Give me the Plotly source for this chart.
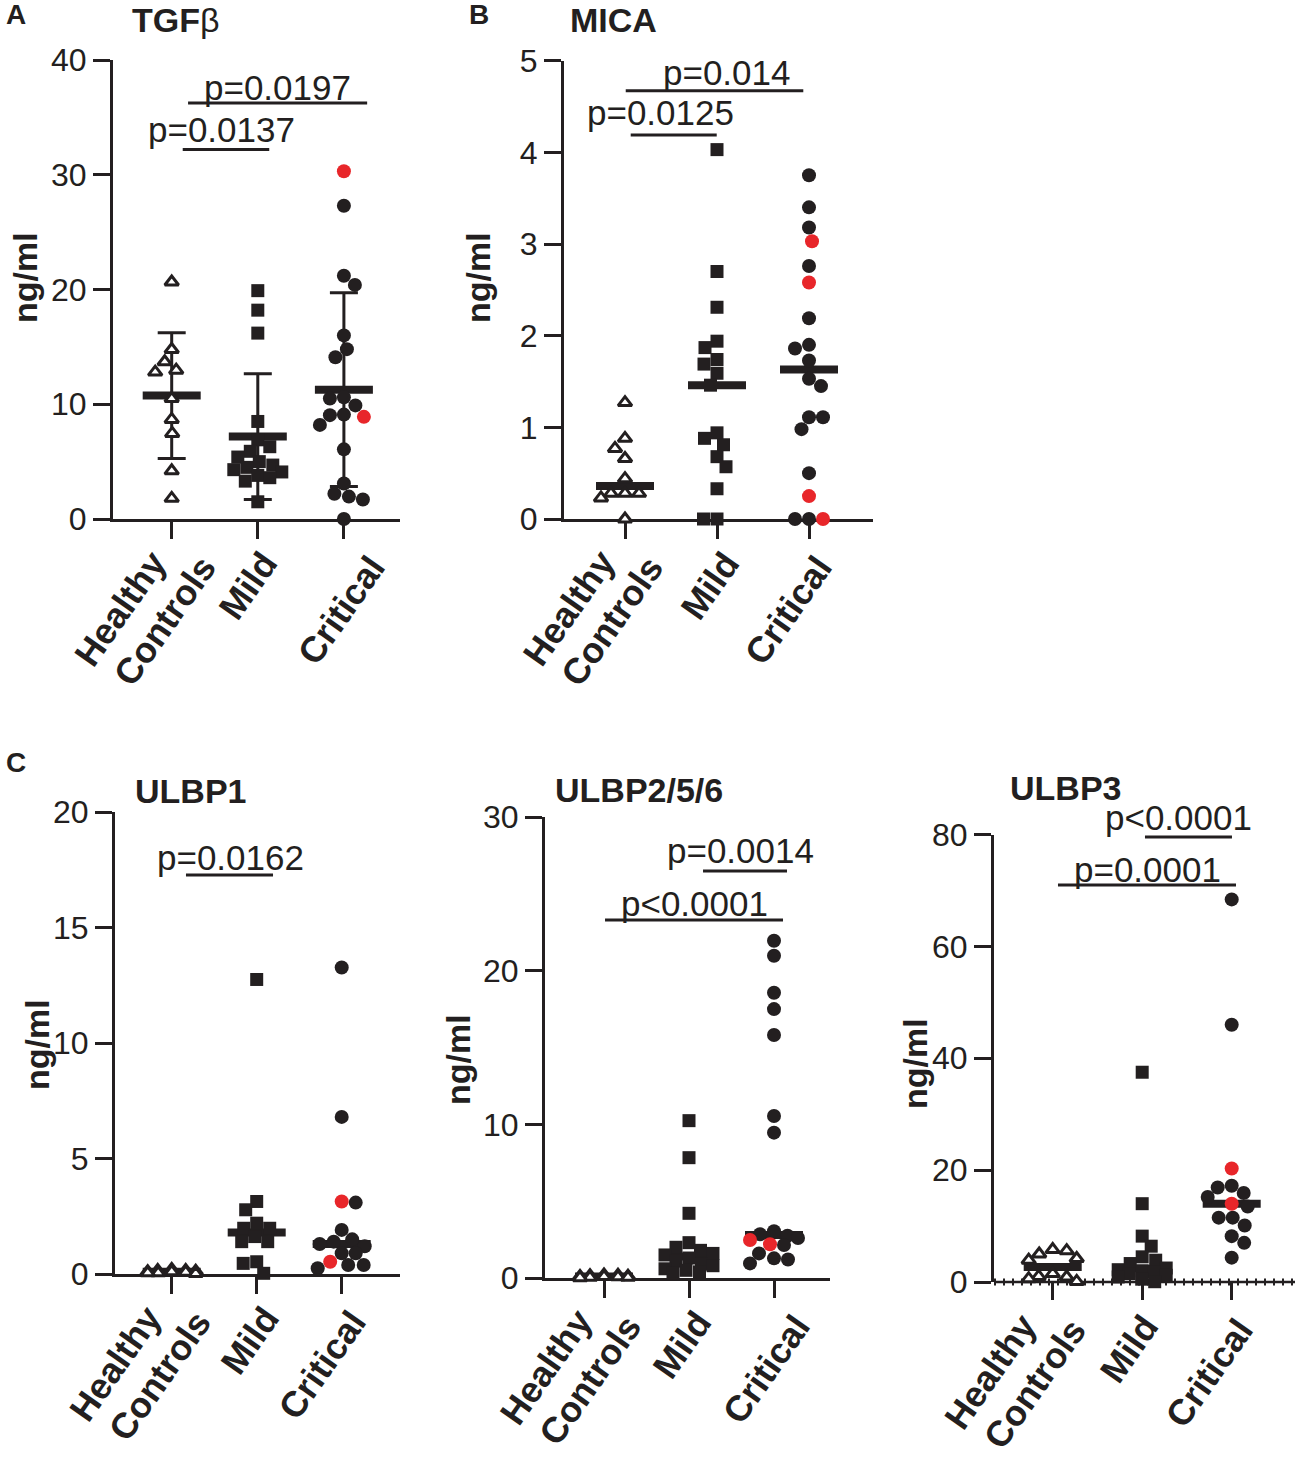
import numpy as np
import plotly.graph_objects as go

# ---------------- data (ng/ml) ----------------
categories = ["Healthy", "Controls", "Mild", "Critical"]  # "Healthy Controls" is set on two lines

tgfb_hc = [20.65, 14.77, 13.7, 12.97, 12.8, 10.5, 8.68, 7.46, 4.2, 1.8]
tgfb_mild = [19.9, 18.2, 16.2, 8.5, 6.9, 6.3, 5.9, 5.4, 5.0, 4.7, 4.5, 4.3, 4.1, 3.8, 3.6, 3.3, 1.5]
tgfb_crit = [27.3, 21.2, 20.4, 16.0, 14.8, 14.1, 10.6, 10.5, 9.9, 9.05, 9.1, 8.2, 6.07, 3.1, 2.2, 1.95, 1.7, 0.0]
tgfb_crit_red = [30.3, 8.9]

mica_hc = [1.27, 0.88, 0.77, 0.66, 0.44, 0.28, 0.28, 0.28, 0.23, 0.0]
mica_mild = [4.03, 2.70, 2.31, 1.94, 1.87, 1.74, 1.69, 1.59, 1.46, 0.94, 0.88, 0.81, 0.68, 0.57, 0.33, 0.0, 0.0]
mica_crit = [3.75, 3.40, 3.18, 2.76, 2.19, 1.90, 1.86, 1.73, 1.53, 1.45, 1.11, 1.11, 0.98, 0.50, 0.0, 0.0]
mica_crit_red = [3.03, 2.58, 0.25, 0.0]

ulbp1_hc = [0.2, 0.15, 0.15, 0.12, 0.1, 0.1, 0.08, 0.05, 0.05, 0.02]
ulbp1_mild = [12.75, 3.14, 2.78, 2.2, 1.98, 1.98, 1.62, 1.40, 1.40, 0.53, 0.46, 0.03]
ulbp1_crit = [13.27, 6.8, 3.09, 1.91, 1.5, 1.4, 1.3, 1.2, 0.9, 0.9, 0.39, 0.39, 0.25]
ulbp1_crit_red = [3.14, 0.53]

ulbp2_hc = [0.2, 0.18, 0.15, 0.12, 0.1, 0.1, 0.08, 0.05, 0.05, 0.02]
ulbp2_mild = [10.24, 7.83, 4.21, 2.3, 2.0, 1.8, 1.6, 1.5, 1.3, 1.1, 0.9, 0.8, 0.6, 0.5, 0.4, 0.3]
ulbp2_crit = [21.95, 20.97, 18.56, 17.5, 15.81, 10.54, 9.46, 3.05, 2.85, 2.75, 2.6, 2.15, 1.6, 1.28, 1.2, 0.95]
ulbp2_crit_red = [2.47, 2.2]

ulbp3_hc = [5.8, 5.6, 5.0, 4.2, 3.9, 1.5, 1.0, 0.9, 0.6, 0.1]
ulbp3_mild = [37.5, 14.0, 8.2, 6.4, 4.5, 3.9, 3.3, 2.5, 2.2, 2.0, 1.8, 1.5, 1.2, 0.9, 0.5, 0.05]
ulbp3_crit = [68.4, 46.0, 17.2, 16.9, 15.9, 15.2, 13.5, 11.5, 11.5, 10.1, 8.2, 7.0, 4.35]
ulbp3_crit_red = [20.3, 14.0]

titles = ["<b>TGF</b>β", "<b>MICA</b>", "<b>ULBP1</b>", "<b>ULBP2/5/6</b>", "<b>ULBP3</b>"]
y_max = [40, 5, 20, 30, 80]
y_dtick = [10, 1, 5, 10, 20]
summary = ["mean_sd", "median", "median", "median", "median"]

# significance brackets: (panel, x_from, x_to, y, label, text_x, text_y)  -- data units
brackets = [
    (0, 0.19, 2.27, 36.25, "p=0.0197", 1.23, 37.6),
    (0, 0.128, 1.133, 32.2, "p=0.0137", 0.584, 33.9),
    (1, 0.008, 1.938, 4.673, "p=0.014", 1.104, 4.87),
    (1, 0.062, 0.997, 4.19, "p=0.0125", 0.391, 4.43),
    (2, 0.168, 1.192, 17.27, "p=0.0162", 0.686, 18.05),
    (3, 1.165, 2.153, 26.49, "p=0.0014", 1.6, 27.8),
    (3, 0.012, 2.106, 23.3, "p<0.0001", 1.059, 24.4),
    (4, 1.031, 2.003, 79.55, "p<0.0001", 1.4, 82.95),
    (4, 0.059, 2.048, 70.97, "p=0.0001", 1.054, 73.8),
]

# ---------------- layout geometry (pixels) ----------------
W, H = 1299, 1461
# x axis extent px, y axis top/bottom px, first category px, category step px
geom = [
    (113, 400, 60.0, 519.0, 171.7, 86.1),
    (564, 873, 60.7, 519.0, 625.0, 92.0),
    (115, 400, 812.0, 1274.0, 171.7, 85.0),
    (545, 830, 817.0, 1278.0, 604.0, 85.0),
    (994, 1295, 834.5, 1282.0, 1052.7, 89.5),
]
title_pos = [(130, 20), (568, 20), (133, 791), (553, 790), (1008, 788)]
ylab_pos = [(25, 278), (478, 278), (37, 1045), (458, 1060), (915, 1063)]
letters = [("A", 4, 15), ("B", 467, 15), ("C", 4, 763)]
# category label anchors per panel: dx for (Healthy, Controls, Mild, Critical) from tick, px
label_cat = [0, 0, 1, 2]
label_dy = [23, 28, 24, 28]
label_dx = [
    [4, 54, 29, 50],
    [-1, 48, 32, 32],
    [-1, 49, 32, 33],
    [-3, 47, 32, 45],
    [-7, 43, 26, 30],
]

BLACK = "#231f20"
RED = "#e8262a"
FONT = "Liberation Sans, Arial, Helvetica, sans-serif"

panels = [
    (tgfb_hc, tgfb_mild, tgfb_crit, tgfb_crit_red),
    (mica_hc, mica_mild, mica_crit, mica_crit_red),
    (ulbp1_hc, ulbp1_mild, ulbp1_crit, ulbp1_crit_red),
    (ulbp2_hc, ulbp2_mild, ulbp2_crit, ulbp2_crit_red),
    (ulbp3_hc, ulbp3_mild, ulbp3_crit, ulbp3_crit_red),
]


def px(x):
    return x / W


def py(y):
    return 1 - y / H


def swarm(vals, ppu, d=14.0, maxw=24.0, step=0.5):
    """Beeswarm offsets (pixels) for values; ppu = pixels per data unit."""
    vals = np.asarray(vals, dtype=float)
    order = np.argsort(-vals, kind="stable")
    placed = []
    offs = np.zeros(len(vals))
    base = np.arange(-maxw, maxw + step / 2, step)
    for n, i in enumerate(order):
        sgn = 1 if n % 2 == 0 else -1
        cands = sorted(base, key=lambda c: (abs(c), sgn * c))
        y = vals[i] * ppu
        best = None
        for c in cands:
            pen = 0.0
            for qx, qy in placed:
                dist = np.hypot(c - qx, y - qy)
                if dist < d:
                    pen += d - dist
            if best is None or pen < best[0] - 1e-9:
                best = (pen, c)
            if pen == 0:
                break
        offs[i] = best[1]
        placed.append((best[1], y))
    return offs


fig = go.Figure()
shapes = []
annotations = []

for k, (hc, mild, crit, crit_red) in enumerate(panels):
    xa = "x" if k == 0 else f"x{k+1}"
    ya = "y" if k == 0 else f"y{k+1}"
    x0px, x1px, ytop, ybot, c0, cstep = geom[k]
    ppu = (ybot - ytop) / y_max[k]
    groups = [hc, mild, list(crit) + list(crit_red)]

    # summary line (mean +/- SD or median)
    centers = []
    for g in groups:
        g = np.asarray(g, dtype=float)
        centers.append(g.mean() if summary[k] == "mean_sd" else float(np.median(g)))
    if summary[k] == "mean_sd":
        sds = [float(np.std(np.asarray(g, dtype=float), ddof=1)) for g in groups]
        fig.add_trace(go.Scatter(
            x=[0, 1, 2], y=centers, xaxis=xa, yaxis=ya, mode="markers",
            marker=dict(size=1, color="rgba(0,0,0,0)"),
            error_y=dict(type="data", array=sds, visible=True, thickness=3,
                         width=14, color=BLACK),
            showlegend=False, hoverinfo="skip"))
    hw = 29.0 / cstep
    lx, ly = [], []
    for i, c in enumerate(centers):
        lx += [i - hw, i + hw, None]
        ly += [c, c, None]
    fig.add_trace(go.Scatter(x=lx, y=ly, xaxis=xa, yaxis=ya, mode="lines",
                             line=dict(color=BLACK, width=8), showlegend=False,
                             hoverinfo="skip"))

    # points
    o_hc = swarm(hc, ppu, d=14.0) / cstep
    fig.add_trace(go.Scatter(
        x=0 + o_hc, y=hc, xaxis=xa, yaxis=ya, mode="markers", cliponaxis=False,
        marker=dict(symbol="triangle-up", size=12, color="white",
                    line=dict(color=BLACK, width=3)),
        showlegend=False))
    o_m = swarm(mild, ppu, d=13.5) / cstep
    fig.add_trace(go.Scatter(
        x=1 + o_m, y=mild, xaxis=xa, yaxis=ya, mode="markers", cliponaxis=False,
        marker=dict(symbol="square", size=13, color=BLACK, line=dict(width=0)),
        showlegend=False))
    allc = list(crit) + list(crit_red)
    o_c = swarm(allc, ppu, d=14.0) / cstep
    nb = len(crit)
    fig.add_trace(go.Scatter(
        x=2 + o_c[:nb], y=crit, xaxis=xa, yaxis=ya, mode="markers", cliponaxis=False,
        marker=dict(symbol="circle", size=14, color=BLACK, line=dict(width=0)),
        showlegend=False))
    fig.add_trace(go.Scatter(
        x=2 + o_c[nb:], y=crit_red, xaxis=xa, yaxis=ya, mode="markers", cliponaxis=False,
        marker=dict(symbol="circle", size=14, color=RED, line=dict(width=0)),
        showlegend=False))

    # axes
    xr = [(x0px - c0) / cstep, (x1px - c0) / cstep]
    xkey = "xaxis" if k == 0 else f"xaxis{k+1}"
    ykey = "yaxis" if k == 0 else f"yaxis{k+1}"
    fig.layout[xkey] = dict(
        domain=[px(x0px), px(x1px)], range=xr, anchor=ya, tickmode="array",
        tickvals=[0, 1, 2], showticklabels=False, ticks="outside", ticklen=17,
        tickwidth=3, tickcolor=BLACK, showline=(k != 4), linewidth=3,
        linecolor=BLACK, showgrid=False, zeroline=False, layer="below traces",
        automargin=False, fixedrange=True)
    fig.layout[ykey] = dict(
        domain=[py(ybot), py(ytop)], range=[0, y_max[k]], anchor=xa, tickmode="linear",
        tick0=0, dtick=y_dtick[k], ticks="outside", ticklen=17, tickwidth=3,
        tickcolor=BLACK, showline=True, linewidth=3, linecolor=BLACK, showgrid=False,
        zeroline=False, layer="below traces", automargin=False, fixedrange=True,
        tickfont=dict(family=FONT, size=32, color=BLACK))

    # rotated category labels
    for j, text in enumerate(categories):
        annotations.append(dict(
            x=px(c0 + label_cat[j] * cstep + label_dx[k][j]), y=py(ybot + label_dy[j]),
            xref="paper", yref="paper",
            text=text, showarrow=False, textangle=-55, xanchor="right", yanchor="top",
            borderpad=0,
            font=dict(family=FONT, size=36, color=BLACK, weight="bold")))

    # title & y label
    tx, ty = title_pos[k]
    annotations.append(dict(x=px(tx), y=py(ty), xref="paper", yref="paper",
                            text=titles[k], showarrow=False, xanchor="left",
                            yanchor="middle",
                            font=dict(family=FONT, size=34, color=BLACK)))
    lxp, lyp = ylab_pos[k]
    annotations.append(dict(x=px(lxp), y=py(lyp), xref="paper", yref="paper",
                            text="ng/ml", showarrow=False, textangle=-90,
                            xanchor="center", yanchor="middle",
                            font=dict(family=FONT, size=34, color=BLACK, weight="bold")))

# ULBP3 dotted baseline (drawn below the markers)
gx0, gx1, _, gb, _, _ = geom[4]
shapes.append(dict(type="line", xref="paper", yref="paper", x0=px(gx0), x1=px(gx1),
                   y0=py(gb), y1=py(gb), layer="below",
                   line=dict(color=BLACK, width=2.5)))
shapes.append(dict(type="line", xref="paper", yref="paper", x0=px(gx0), x1=px(gx1),
                   y0=py(gb), y1=py(gb), layer="below",
                   line=dict(color=BLACK, width=7, dash="2px,7px")))

# brackets (converted from data units to paper coordinates)
for (k, xa0, xa1, yy, lab, tx, ty) in brackets:
    x0px, x1px, ytop, ybot, c0, cstep = geom[k]
    ppu = (ybot - ytop) / y_max[k]
    shapes.append(dict(type="line", xref="paper", yref="paper",
                       x0=px(c0 + xa0 * cstep), x1=px(c0 + xa1 * cstep),
                       y0=py(ybot - yy * ppu), y1=py(ybot - yy * ppu),
                       line=dict(color=BLACK, width=3)))
    annotations.append(dict(x=px(c0 + tx * cstep), y=py(ybot - ty * ppu),
                            xref="paper", yref="paper", text=lab, showarrow=False,
                            xanchor="center", yanchor="middle",
                            font=dict(family=FONT, size=35, color=BLACK)))

for (t, lx_, ly_) in letters:
    annotations.append(dict(x=px(lx_), y=py(ly_), xref="paper", yref="paper",
                            text=t, showarrow=False, xanchor="left", yanchor="middle",
                            font=dict(family=FONT, size=28, color=BLACK, weight="bold")))

fig.update_layout(width=W, height=H, margin=dict(l=0, r=0, t=0, b=0, autoexpand=False),
                  plot_bgcolor="rgba(0,0,0,0)", paper_bgcolor="white",
                  shapes=shapes, annotations=annotations, showlegend=False)

fig.write_html("out.html", config={"displayModeBar": False},
               post_script="document.body.style.margin='0px';document.body.style.padding='0px';")
